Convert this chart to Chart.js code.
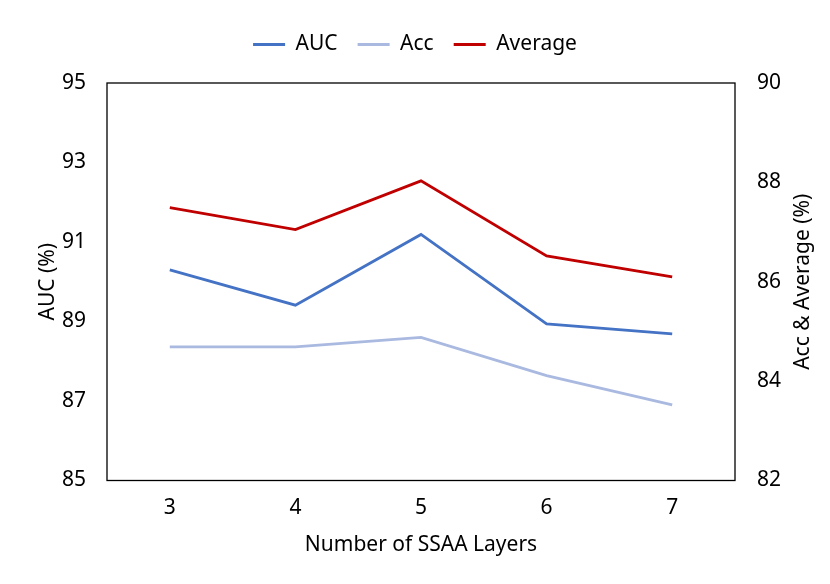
<!DOCTYPE html>
<html>
<head>
<meta charset="utf-8">
<script src="https://cdn.jsdelivr.net/npm/chart.js@4"></script>
<style>
  html, body { margin: 0; padding: 0; background: #fff; }
  #wrap { width: 830px; height: 584px; }
</style>
</head>
<body>
<div id="wrap"><canvas id="myChart"></canvas></div>
<script>
// data
var layers = ['3', '4', '5', '6', '7'];
var auc = [90.30, 89.41, 91.19, 88.94, 88.69];
var acc = [84.69, 84.69, 84.88, 84.11, 83.52];
var average = [87.49, 87.05, 88.03, 86.52, 86.10];
var rightTitle = 'Acc & Average (%)';

var FONT = "'Noto Sans', 'Open Sans', sans-serif";
Chart.defaults.font.family = FONT;
Chart.defaults.font.size = 21;
Chart.defaults.color = '#000';

var TOP_PAD = 14;
var AREA_TOP = 83;

// box around the plot area, right axis title (reads bottom to top like the left one),
// and a taller legend so the plot starts lower
var frame = {
    id: 'frame',
    afterInit: function(chart) {
        var lg = chart.legend;
        var fit = lg.fit;
        lg.fit = function() {
            fit.apply(this, arguments);
            this.height = AREA_TOP - TOP_PAD;
        };
    },
    afterDatasetsDraw: function(chart) {
        var a = chart.chartArea, c = chart.ctx;
        c.save();
        c.strokeStyle = '#000';
        c.lineWidth = 1.3;
        c.strokeRect(a.left, a.top, a.right - a.left, a.bottom - a.top);
        c.translate(803, (a.top + a.bottom) / 2);
        c.rotate(-Math.PI / 2);
        c.font = '21px ' + FONT;
        c.fillStyle = '#000';
        c.textAlign = 'center';
        c.textBaseline = 'middle';
        c.fillText(rightTitle, 0, 0);
        c.restore();
    }
};

var ctx = document.getElementById('myChart');
var myChart = new Chart(ctx, {
    type: 'line',
    data: {
        labels: layers,
        datasets: [{
            label: 'AUC',
            data: auc,
            yAxisID: 'y',
            borderColor: '#4472C4',
            backgroundColor: '#4472C4'
        }, {
            label: 'Acc',
            data: acc,
            yAxisID: 'y1',
            borderColor: '#A9B9E0',
            backgroundColor: '#A9B9E0'
        }, {
            label: 'Average',
            data: average,
            yAxisID: 'y1',
            borderColor: '#C00000',
            backgroundColor: '#C00000'
        }]
    },
    options: {
        responsive: true,
        maintainAspectRatio: false,
        animation: false,
        layout: { padding: { top: TOP_PAD, left: 0, right: 0, bottom: 0 } },
        elements: {
            line: { borderWidth: 2.8, tension: 0 },
            point: { radius: 0, hoverRadius: 0 }
        },
        plugins: {
            legend: {
                position: 'top',
                labels: { boxWidth: 32, boxHeight: 0, padding: 20 }
            },
            tooltip: { enabled: false }
        },
        scales: {
            x: {
                offset: true,
                grid: { display: false, drawTicks: false },
                border: { display: false },
                ticks: { padding: 15 },
                title: { display: true, text: 'Number of SSAA Layers', padding: { top: 8, bottom: 26 } },
                afterFit: function(s) { s.height = 103.5; }
            },
            y: {
                position: 'left',
                min: 85, max: 95,
                grid: { display: false, drawTicks: false },
                border: { display: false },
                ticks: { stepSize: 2, padding: 21 },
                title: { display: true, text: 'AUC (%)', padding: { top: 35, bottom: 0 } },
                afterFit: function(s) { s.width = 107; }
            },
            y1: {
                position: 'right',
                min: 82, max: 90,
                grid: { display: false, drawTicks: false },
                border: { display: false },
                ticks: { stepSize: 2, padding: 22 },
                title: { display: false },
                afterFit: function(s) { s.width = 95; }
            }
        }
    },
    plugins: [frame]
});
</script>
</body>
</html>
